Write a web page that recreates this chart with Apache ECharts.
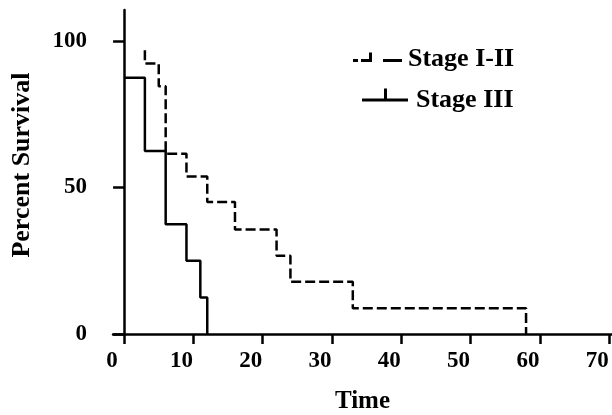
<!DOCTYPE html>
<html>
<head>
<meta charset="utf-8">
<script src="https://cdn.jsdelivr.net/npm/echarts@6/dist/echarts.min.js"></script>
<style>
  html, body { margin: 0; padding: 0; background: #fff; }
  #main { width: 612px; height: 415px; }
</style>
</head>
<body>
<div id="main"></div>
<script>
// survival curves: [time, percent]
var stageI_II = [[3, 96.9], [3, 92.3], [5, 84.6], [6, 61.5], [9, 53.8], [12, 45.1],
                 [16, 35.7], [22, 26.7], [24, 17.8], [33, 8.8], [58, 0]];
var stageIII = [[0, 87.5], [3, 62.5], [6, 37.5], [9, 25], [11, 12.5], [12, 0]];
var xTicks = [0, 10, 20, 30, 40, 50, 60, 70];
var yTicks = [0, 50, 100];

var myChart = echarts.init(document.getElementById('main'));
var font = 'Liberation Serif';

// legend samples: dashed / solid line with a small tick, tiny dot at the bottom keeps the text centred on the line
var iconDashed = 'path://M0 6.5h5v3h-5z M8 6.5h11v3h-11z M16 0h3v6.5h-3z M30 6.5h19v3h-19z M48.99 12.99h0.01v0.01h-0.01z';
var iconSolid = 'path://M0 10h46v3h-46z M22 0h3v10h-3z M45.99 22.99h0.01v0.01h-0.01z';

var option = {
  backgroundColor: '#fff',
  animation: false,
  grid: { left: 113, right: 0, top: 10, bottom: 81, containLabel: false, outerBoundsMode: 'none' },
  legend: [{
    data: [{ name: 'Stage I-II', icon: iconDashed }],
    left: 353, top: 46, padding: 0,
    itemWidth: 49, itemHeight: 13,
    itemStyle: { color: '#000', borderWidth: 0 },
    textStyle: { fontFamily: font, fontWeight: 'bold', fontSize: 26, color: '#000', padding: [0, 0, 0, 1] }
  }, {
    data: [{ name: 'Stage III', icon: iconSolid }],
    left: 362, top: 87, padding: 0,
    itemWidth: 46, itemHeight: 23,
    itemStyle: { color: '#000', borderWidth: 0 },
    textStyle: { fontFamily: font, fontWeight: 'bold', fontSize: 26, color: '#000', padding: [0, 0, 0, 3] }
  }],
  xAxis: {
    type: 'value', min: -1.6, max: 70.4,
    name: 'Time', nameLocation: 'middle', nameGap: 55,
    nameTextStyle: { fontFamily: font, fontWeight: 'bold', fontSize: 25, color: '#000' },
    axisLine: { lineStyle: { color: '#000', width: 2.5 } },
    axisTick: { customValues: xTicks, length: 10, lineStyle: { color: '#000', width: 2.5 } },
    axisLabel: { customValues: xTicks, fontFamily: font, fontWeight: 'bold', fontSize: 23, color: '#000',
                 margin: 16, padding: [0, 24, 0, 0] },
    splitLine: { show: false }
  },
  yAxis: {
    type: 'value', min: 0, max: 110.6,
    name: 'Percent Survival', nameLocation: 'middle', nameGap: 78,
    nameTextStyle: { fontFamily: font, fontWeight: 'bold', fontSize: 26, color: '#000', padding: [0, 0, 0, 14] },
    axisLine: { onZero: true, lineStyle: { color: '#000', width: 2.5 } },
    axisTick: { customValues: yTicks, length: 11, lineStyle: { color: '#000', width: 2.5 } },
    axisLabel: { customValues: yTicks, fontFamily: font, fontWeight: 'bold', fontSize: 23, color: '#000', margin: 26 },
    splitLine: { show: false }
  },
  series: [{
    name: 'Stage I-II', type: 'line', step: 'end', showSymbol: false, symbol: 'none',
    data: stageI_II,
    itemStyle: { color: '#000' },
    lineStyle: { color: '#000', width: 2.5, type: [10, 4] }
  }, {
    name: 'Stage III', type: 'line', step: 'end', showSymbol: false, symbol: 'none',
    data: stageIII,
    itemStyle: { color: '#000' },
    lineStyle: { color: '#000', width: 2.5 }
  }]
};
myChart.setOption(option);
</script>
</body>
</html>
